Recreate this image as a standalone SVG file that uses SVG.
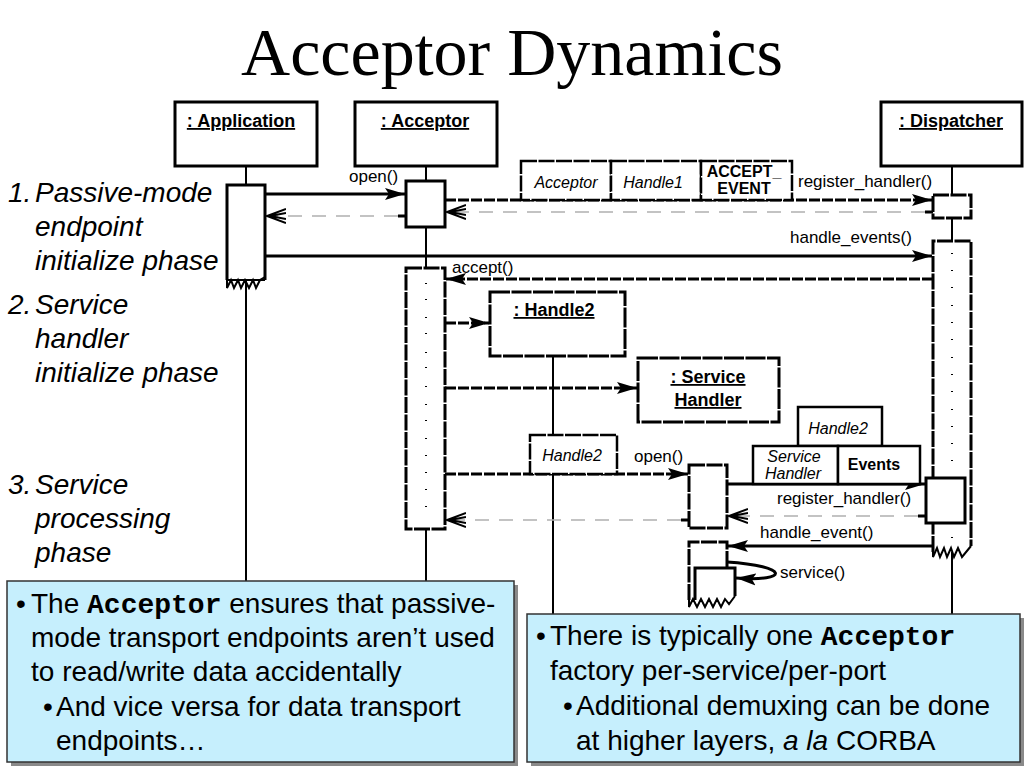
<svg xmlns="http://www.w3.org/2000/svg" width="1024" height="768" viewBox="0 0 1024 768">
<defs>
<marker id="fa" markerUnits="userSpaceOnUse" markerWidth="22" markerHeight="14" refX="20" refY="7" orient="auto"><path d="M0,1 L20,7 L0,13 L4,7 Z" fill="#000"/></marker>
<marker id="oa" markerUnits="userSpaceOnUse" markerWidth="22" markerHeight="16" refX="19" refY="8" orient="auto"><path d="M0,1 L19,8 L0,15 M0,5 L16,8 L0,11" fill="none" stroke="#000" stroke-width="2"/></marker>
</defs>
<style>
text{font-family:"Liberation Sans",Arial,sans-serif;fill:#000}
.obj{fill:#fff;stroke:#000;stroke-width:3}
.objd{fill:#fff;stroke:#000;stroke-width:3;stroke-dasharray:20 1.5}
.name{font-weight:bold;font-size:18px;text-decoration:underline;text-anchor:middle}
.life{stroke:#000;stroke-width:2;fill:none}
.act{fill:#fff;stroke:#000;stroke-width:3}
.actd{fill:#fff;stroke:#000;stroke-width:3;stroke-dasharray:16 1.5}
.msg{stroke:#000;stroke-width:3;fill:none;marker-end:url(#fa)}
.msgd{stroke:#000;stroke-width:3;fill:none;stroke-dasharray:11 2;marker-end:url(#fa)}
.ret{stroke:#b0b0b0;stroke-width:1.5;fill:none;stroke-dasharray:14 10;marker-end:url(#oa)}
.tick{stroke:#000;stroke-width:3}
.lbl{font-size:17px}
.par{fill:#fff;stroke:#000;stroke-width:2.5}
.pard{fill:#fff;stroke:#000;stroke-width:2.5;stroke-dasharray:16 1.5}
.pari{font-size:16px;font-style:italic;text-anchor:middle}
.parb{font-size:16px;font-weight:bold;text-anchor:middle}
.phase{font-size:28px;font-style:italic}
.note{fill:#c6effd;stroke:#333;stroke-width:1.5}
.shadow{fill:#8a8a8a}
.nt{font-size:28px}
.mono{font-family:"Liberation Mono","Courier New",monospace;font-weight:bold}
.jag{fill:none;stroke:#000;stroke-width:2}
.dot{fill:#000}
</style>
<rect width="1024" height="768" fill="#fff"/>
<text x="512" y="75" font-size="68" text-anchor="middle" style="font-family:'Liberation Serif','Times New Roman',serif">Acceptor Dynamics</text>

<g id="phases">
<text class="phase" x="8" y="202">1.</text><text class="phase" x="35" y="202">Passive-mode</text>
<text class="phase" x="35" y="236">endpoint</text>
<text class="phase" x="35" y="270">initialize phase</text>
<text class="phase" x="8" y="314">2.</text><text class="phase" x="35" y="314">Service</text>
<text class="phase" x="35" y="348">handler</text>
<text class="phase" x="35" y="382">initialize phase</text>
<text class="phase" x="8" y="494">3.</text><text class="phase" x="35" y="494">Service</text>
<text class="phase" x="35" y="528">processing</text>
<text class="phase" x="35" y="562">phase</text>
</g>

<g id="lifelines">
<line class="life" x1="246" y1="166" x2="246" y2="186"/>
<line class="life" x1="246" y1="280" x2="246" y2="582"/>
<line class="life" x1="426" y1="166" x2="426" y2="182"/>
<line class="life" x1="426" y1="226" x2="426" y2="270"/>
<line class="life" x1="426" y1="528" x2="426" y2="582"/>
<line class="life" x1="952" y1="166" x2="952" y2="196"/>
<line class="life" x1="952" y1="217" x2="952" y2="241"/>
<line class="life" x1="952" y1="552" x2="952" y2="615"/>
<line class="life" x1="553" y1="356" x2="553" y2="436"/>
<line class="life" x1="553" y1="474" x2="553" y2="615"/>
</g>

<g id="application">
<rect class="obj" x="175" y="102" width="142" height="64"/>
<text class="name" x="241" y="127">: Application </text>
<path class="act" d="M227,280 L227,185 L265,185 L265,280"/>
<path class="jag" d="M227,280 L265,280 M227,280 L227,288 L231,280 L234,288 L238,280 L241,288 L245,280 L249,288 L253,280 L256,288 L260,280 L265,277"/>
</g>

<g id="acceptor">
<rect class="obj" x="355" y="102" width="142" height="64"/>
<text class="name" x="425" y="127">: Acceptor </text>
<rect class="act" x="406" y="181" width="39" height="46"/>
<rect class="actd" x="406" y="268" width="39" height="261"/>
<g class="dot">
<rect x="425" y="283" width="2" height="1"/><rect x="425" y="299" width="2" height="1"/><rect x="425" y="317" width="2" height="1"/><rect x="425" y="333" width="2" height="1"/><rect x="425" y="352" width="2" height="1"/><rect x="425" y="367" width="2" height="1"/><rect x="425" y="386" width="2" height="1"/><rect x="425" y="404" width="2" height="1"/><rect x="425" y="420" width="2" height="1"/><rect x="425" y="438" width="2" height="1"/><rect x="425" y="455" width="2" height="1"/><rect x="425" y="472" width="2" height="1"/><rect x="425" y="489" width="2" height="1"/><rect x="425" y="506" width="2" height="1"/>
</g>
</g>

<g id="dispatcher">
<rect class="obj" x="881" y="102" width="141" height="64"/>
<text class="name" x="951" y="127">: Dispatcher </text>
<rect class="actd" x="933" y="195" width="38" height="23"/>
<path class="actd" d="M933,552 L933,241 L971,241 L971,546"/>
<path class="jag" d="M933,552 L933,557 L937,548 L940,557 L944,548 L947,557 L951,548 L954,557 L958,548 L962,557 L971,546" stroke-width="2.5"/>
<g class="dot">
<rect x="951" y="253" width="2" height="1"/><rect x="951" y="270" width="2" height="1"/><rect x="951" y="287" width="2" height="1"/><rect x="951" y="305" width="2" height="1"/><rect x="951" y="322" width="2" height="1"/><rect x="951" y="339" width="2" height="1"/><rect x="951" y="357" width="2" height="1"/><rect x="951" y="374" width="2" height="1"/><rect x="951" y="391" width="2" height="1"/><rect x="951" y="409" width="2" height="1"/><rect x="951" y="426" width="2" height="1"/><rect x="951" y="443" width="2" height="1"/><rect x="951" y="460" width="2" height="1"/><rect x="951" y="537" width="2" height="1"/>
</g>
<rect class="act" x="926" y="478" width="39" height="45"/>
</g>

<g id="handle2">
<rect class="objd" x="490" y="292" width="135" height="64"/>
<text class="name" x="554" y="316">: Handle2 </text>
</g>

<g id="service-handler">
<rect class="objd" x="638" y="358" width="141" height="64"/>
<text class="name" x="708" y="383">: Service</text>
<text class="name" x="708" y="406">Handler </text>
<rect class="actd" x="689" y="465" width="38" height="63"/>
<path class="actd" d="M689,600 L689,542 L727,542 L727,596"/>
<path class="act" d="M695,600 L695,568 L735,568 L735,596"/>
<path class="jag" d="M689,600 L689,607 L693,599 L697,607 L701,599 L705,607 L709,599 L713,607 L717,599 L721,607 L725,599 L729,604 L735,596"/>
</g>

<g id="connectors">
<line class="msg" x1="265" y1="194" x2="405" y2="194"/>
<text class="lbl" x="349" y="182">open()</text>
<line class="ret" x1="398" y1="216" x2="267" y2="216"/>
<line class="tick" x1="398" y1="216" x2="406" y2="216"/>

<line class="msgd" x1="445" y1="200" x2="932" y2="200"/>
<text class="lbl" x="798" y="187">register_handler()</text>
<line class="ret" x1="925" y1="212" x2="447" y2="212"/>
<line class="tick" x1="925" y1="212" x2="933" y2="212"/>

<line class="msg" x1="265" y1="256" x2="932" y2="256"/>
<text class="lbl" x="790" y="243">handle_events()</text>
<line class="msgd" x1="933" y1="279" x2="446" y2="279"/>
<text class="lbl" x="452" y="273">accept()</text>

<line class="msgd" x1="445" y1="323" x2="489" y2="323"/>
<line class="msgd" x1="445" y1="388" x2="637" y2="388"/>

<line class="msgd" x1="445" y1="474" x2="688" y2="474"/>
<text class="lbl" x="634" y="462">open()</text>
<line class="msg" x1="727" y1="484" x2="925" y2="484"/>
<text class="lbl" x="777" y="504">register_handler()</text>
<line class="ret" x1="918" y1="516" x2="729" y2="516"/>
<line class="tick" x1="918" y1="516" x2="926" y2="516"/>
<line class="ret" x1="681" y1="520" x2="447" y2="520"/>
<line class="tick" x1="681" y1="520" x2="689" y2="520"/>
<line class="msg" x1="933" y1="546" x2="728" y2="546"/>
<text class="lbl" x="760" y="538">handle_event()</text>
<path class="msg" d="M727,562 C790,566 790,582 736,578" stroke-width="2"/>
<text class="lbl" x="780" y="578">service()</text>
</g>

<g id="param-register1">
<rect class="pard" x="521" y="161" width="90" height="39"/>
<rect class="pard" x="611" y="161" width="90" height="39"/>
<rect class="pard" x="701" y="161" width="91" height="39"/>
<text class="pari" x="566" y="188">Acceptor</text>
<text class="pari" x="653" y="188">Handle1</text>
<text class="parb" x="744" y="177">ACCEPT_</text>
<text class="parb" x="744" y="194">EVENT</text>
</g>

<g id="param-open2">
<rect class="pard" x="530" y="435" width="87" height="39"/>
<text class="pari" x="572" y="461">Handle2</text>
</g>

<g id="param-register2">
<rect class="par" x="798" y="407" width="84" height="39"/>
<text class="pari" x="838" y="434">Handle2</text>
<rect class="par" x="753" y="446" width="85" height="38"/>
<rect class="par" x="838" y="446" width="82" height="38"/>
<text class="pari" x="794" y="462">Service</text>
<text class="pari" x="793" y="479">Handler</text>
<text class="parb" x="874" y="470">Events</text>
</g>

<g id="note-left">
<rect class="shadow" x="11" y="585" width="507" height="181"/>
<rect class="note" x="7" y="581" width="507" height="181"/>
<text class="nt" x="16" y="613">•</text>
<text class="nt" x="31" y="613">The <tspan class="mono">Acceptor</tspan> ensures that passive-</text>
<text class="nt" x="31" y="647">mode transport endpoints aren’t used</text>
<text class="nt" x="31" y="681">to read/write data accidentally</text>
<text class="nt" x="43" y="716">•</text>
<text class="nt" x="56" y="716">And vice versa for data transport</text>
<text class="nt" x="56" y="750">endpoints…</text>
</g>

<g id="note-right">
<rect class="shadow" x="531" y="618" width="493" height="148"/>
<rect class="note" x="527" y="614" width="493" height="148"/>
<text class="nt" x="536" y="645">•</text>
<text class="nt" x="550" y="645">There is typically one <tspan class="mono">Acceptor</tspan></text>
<text class="nt" x="550" y="680">factory per-service/per-port</text>
<text class="nt" x="563" y="715">•</text>
<text class="nt" x="576" y="715">Additional demuxing can be done</text>
<text class="nt" x="576" y="750">at higher layers, <tspan font-style="italic">a la</tspan> CORBA</text>
</g>
</svg>
